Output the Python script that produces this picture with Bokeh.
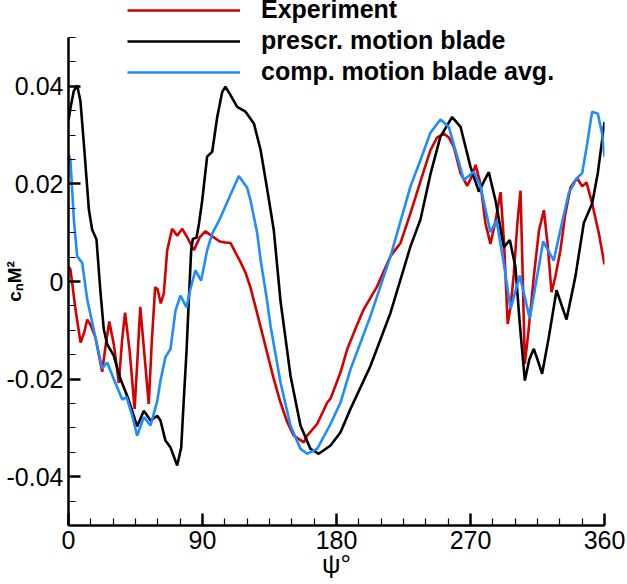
from bokeh.plotting import figure
from bokeh.models import Legend, LegendItem, FixedTicker, Range1d, NumeralTickFormatter
from bokeh.embed import file_html
from bokeh.resources import INLINE

# ---------------- data ----------------
psi_exp = [0, 1.3, 4.7, 8.1, 10.5, 12.6, 15, 18.1, 22.6, 25, 27.4, 30.5, 33.8, 36, 38, 41, 44.4,
           46.3, 48.2, 51, 53.9, 56, 58.2, 59.8, 62, 64, 66.3, 69.6, 73, 76.4, 79.7, 84.2, 88.2,
           92, 95.4, 101.6, 105.4, 108.8, 112.2, 115.5, 118.9, 122.2, 127.8, 133.4, 137.9, 142.4,
           146.9, 151.3, 155.8, 158, 160.3, 167, 173.8, 176, 182.7, 187.2, 193, 198.3, 207.3,
           216.3, 223, 229.7, 236.4, 243.1, 247.5, 252, 255.5, 258.8, 263.3, 267.8, 270.8, 273.4,
           276.7, 280, 283.4, 286.5, 290.2, 292.5, 295, 297, 299.1, 301.5, 303.6, 305, 306.5,
           309, 312.5, 316, 319.3, 322, 324.4, 327, 330.4, 333.5, 337.2, 341.6, 345, 347.9,
           351.7, 356.2, 360]
cn_exp = [0.003, 0.0025, -0.0057, -0.0125, -0.0105, -0.0078, -0.009, -0.0115, -0.0185, -0.013,
          -0.0082, -0.013, -0.0208, -0.012, -0.0064, -0.014, -0.0261, -0.016, -0.0052, -0.015,
          -0.0251, -0.012, -0.0012, -0.0016, -0.0045, -0.0025, 0.0064, 0.0108, 0.0094, 0.0108,
          0.0091, 0.0064, 0.0091, 0.0103, 0.0095, 0.0082, 0.008, 0.0079, 0.0059, 0.004, 0.0018,
          -0.0012, -0.0078, -0.0146, -0.020, -0.0248, -0.0288, -0.0316, -0.0325, -0.033, -0.0316,
          -0.0292, -0.0248, -0.024, -0.0186, -0.0139, -0.0095, -0.0057, -0.001, 0.0052, 0.0079,
          0.014, 0.0205, 0.0269, 0.0295, 0.0303, 0.0295, 0.0276, 0.0222, 0.0196, 0.0215, 0.0239,
          0.020, 0.012, 0.0077, 0.012, 0.0183, 0.008, -0.0087, -0.005, 0.0016, 0.012, 0.0186,
          0.002, -0.0169, -0.010, 0.0009, 0.0105, 0.0146, 0.007, -0.0022, 0.001, 0.0064, 0.0135,
          0.0193, 0.0212, 0.0195, 0.0203, 0.016, 0.0099, 0.0035]

psi_presc = [0, 1.3, 3.5, 5.8, 8, 10.3, 13.7, 15.9, 18.8, 21.5, 23.7, 26, 30.4, 34.9, 39.4, 41.6,
             46.1, 50.6, 55.1, 59.6, 61.8, 65.1, 68.5, 73, 75.7, 77.4, 79.3, 80.8, 82.4, 83.5, 86,
             87.6, 89.8, 93.1, 96.5, 99.9, 103.2, 105.4, 108.8, 113.3, 118.9, 124.5, 129, 133.4,
             137.9, 142.4, 149.1, 155.8, 162.5, 168.1, 176, 182.7, 189.4, 202.8, 216.3, 229.7,
             236.4, 243.1, 249.8, 257.7, 263.3, 270, 275.6, 279, 282.3, 286.8, 292.4, 296.4,
             300.2, 303.1, 306.5, 309.5, 312.5, 315, 318.1, 322.6, 327.8, 334.5, 340.5, 346.1,
             351.7, 355.5, 360]
cn_presc = [0.033, 0.0355, 0.039, 0.0402, 0.037, 0.0283, 0.0147, 0.0106, 0.0086, -0.0023,
            -0.0098, -0.0129, -0.0152, -0.020, -0.0234, -0.0254, -0.0297, -0.0265, -0.0285,
            -0.0275, -0.0285, -0.0326, -0.034, -0.0377, -0.034, -0.0244, -0.0141, -0.0039, 0.0064,
            0.0087, 0.009, 0.0118, 0.0166, 0.0256, 0.0266, 0.0337, 0.0388, 0.0399, 0.0382, 0.0358,
            0.0348, 0.0324, 0.027, 0.019, 0.0105, -0.004, -0.0193, -0.0295, -0.0343, -0.0353,
            -0.0336, -0.0309, -0.0261, -0.0173, -0.0064, 0.0072, 0.0127, 0.022, 0.0297, 0.0337,
            0.0317, 0.0235, 0.0184, 0.0205, 0.0224, 0.0166, 0.007, 0.0085, 0.0029, -0.0087,
            -0.0203, -0.016, -0.0138, -0.016, -0.0189, -0.0114, -0.0018, -0.0078, 0.0011, 0.012,
            0.016, 0.0222, 0.0327]

psi_comp = [0, 1.3, 3.6, 5.8, 9.2, 12.6, 15.9, 19.3, 22.6, 26, 30.4, 36.1, 39, 42.8, 46.1, 50.6,
            55.1, 59.6, 61.8, 65.1, 68.5, 71.9, 75.2, 79.3, 81.9, 85.3, 89.1, 93.1, 96.5, 101.6,
            107.7, 114.4, 120, 122.2, 126.7, 129, 133.4, 135.7, 142.4, 149.1, 155.8, 160.3, 167,
            176, 182.7, 189.4, 202.8, 216.3, 229.7, 236.4, 243.1, 249.8, 255.4, 261.1, 265.5,
            272.2, 276.7, 283.4, 287.5, 292.4, 296.9, 303.1, 309.8, 318.8, 325.9, 330.4, 336,
            341.6, 345, 348.4, 351.7, 355.5, 358.4, 360]
cn_comp = [0.0262, 0.0249, 0.0127, 0.0052, 0.0038, -0.0037, -0.0084, -0.0132, -0.0178, -0.0166,
           -0.020, -0.0242, -0.0237, -0.0275, -0.0316, -0.0278, -0.0295, -0.0245, -0.0203, -0.0155,
           -0.0138, -0.0059, -0.0029, -0.0053, -0.0015, 0.0023, 0.0002, 0.0064, 0.0098, 0.0128,
           0.017, 0.0216, 0.0192, 0.0167, 0.010, 0.0045, -0.004, -0.0091, -0.0207, -0.0295, -0.0343,
           -0.0353, -0.0343, -0.0292, -0.0248, -0.018, -0.0071, 0.0052, 0.0195, 0.0249, 0.0305,
           0.0332, 0.0317, 0.0256, 0.0208, 0.0225, 0.0195, 0.0101, 0.0125, 0.0036, -0.0056, 0.0012,
           -0.0076, 0.0082, 0.0043, 0.0106, 0.0181, 0.0212, 0.0222, 0.0283, 0.0348, 0.0344, 0.0303,
           0.0256]

series_names = ["Experiment", "prescr. motion blade", "comp. motion blade avg."]
x_ticks = [0, 90, 180, 270, 360]
y_ticks = [-0.04, -0.02, 0, 0.02, 0.04]
x_title = "ψ°"
y_title = "cₙM²"

# ---------------- figure ----------------
FONT = "Liberation Sans"
PX_PER_UNIT = 4880.0
p = figure(width=627, height=584, output_backend="svg", toolbar_location=None, title=None,
           x_range=Range1d(0, 360), y_range=Range1d(-0.05, 0.05 + 37 / PX_PER_UNIT),
           min_border_left=68, min_border_right=23, min_border_top=0, min_border_bottom=59)
p.outline_line_color = None
p.xgrid.visible = False
p.ygrid.visible = False
p.background_fill_color = "white"
p.border_fill_color = "white"

xax = p.xaxis[0]
yax = p.yaxis[0]
xax.bounds = (0, 360)
yax.bounds = (-0.05, 0.05)
xax.ticker = FixedTicker(ticks=x_ticks, minor_ticks=list(range(0, 361, 15)))
yax.ticker = FixedTicker(ticks=y_ticks, minor_ticks=[round(-0.05 + 0.005 * i, 4) for i in range(21)])
yax.formatter = NumeralTickFormatter(format="0.[00]")
for ax in (xax, yax):
    ax.major_tick_in = 12
    ax.major_tick_out = 0
    ax.minor_tick_in = 7
    ax.minor_tick_out = 0
    ax.axis_line_width = 2.5
    ax.axis_line_color = "black"
    ax.major_tick_line_width = 2.5
    ax.minor_tick_line_width = 1.2
    ax.major_tick_line_color = "black"
    ax.minor_tick_line_color = "black"
    ax.major_label_text_font = FONT
    ax.major_label_text_font_size = "25px"
    ax.major_label_text_color = "black"
    ax.axis_label_text_font = FONT
    ax.axis_label_text_color = "black"
xax.major_label_standoff = 5
yax.major_label_standoff = 5

xax.axis_label = x_title
xax.axis_label_text_font_size = "26px"
xax.axis_label_text_font_style = "normal"
xax.axis_label_standoff = -3

# trailing no-break spaces push the visible title down to the level of y = 0
yax.axis_label = y_title + "\u00a0" * 7
yax.axis_label_text_font_size = "19px"
yax.axis_label_text_font_style = "bold"
yax.axis_label_standoff = -21

r_exp = p.line(psi_exp, cn_exp, line_color="#d40000", line_width=2.6)
r_presc = p.line(psi_presc, cn_presc, line_color="black", line_width=2.6)
r_comp = p.line(psi_comp, cn_comp, line_color="#1e8cff", line_width=2.6)

legend = Legend(items=[LegendItem(label=series_names[0], renderers=[r_exp]),
                       LegendItem(label=series_names[1], renderers=[r_presc]),
                       LegendItem(label=series_names[2], renderers=[r_comp])],
                location=(59, 439), orientation="vertical",
                border_line_color=None, background_fill_alpha=0,
                padding=0, margin=0, spacing=2,
                glyph_width=113, glyph_height=20, label_height=20, label_standoff=21,
                label_text_font=FONT, label_text_font_style="bold",
                label_text_font_size="25px", label_text_color="black")
p.add_layout(legend)

open("out.html", "w").write(file_html(p, INLINE))
